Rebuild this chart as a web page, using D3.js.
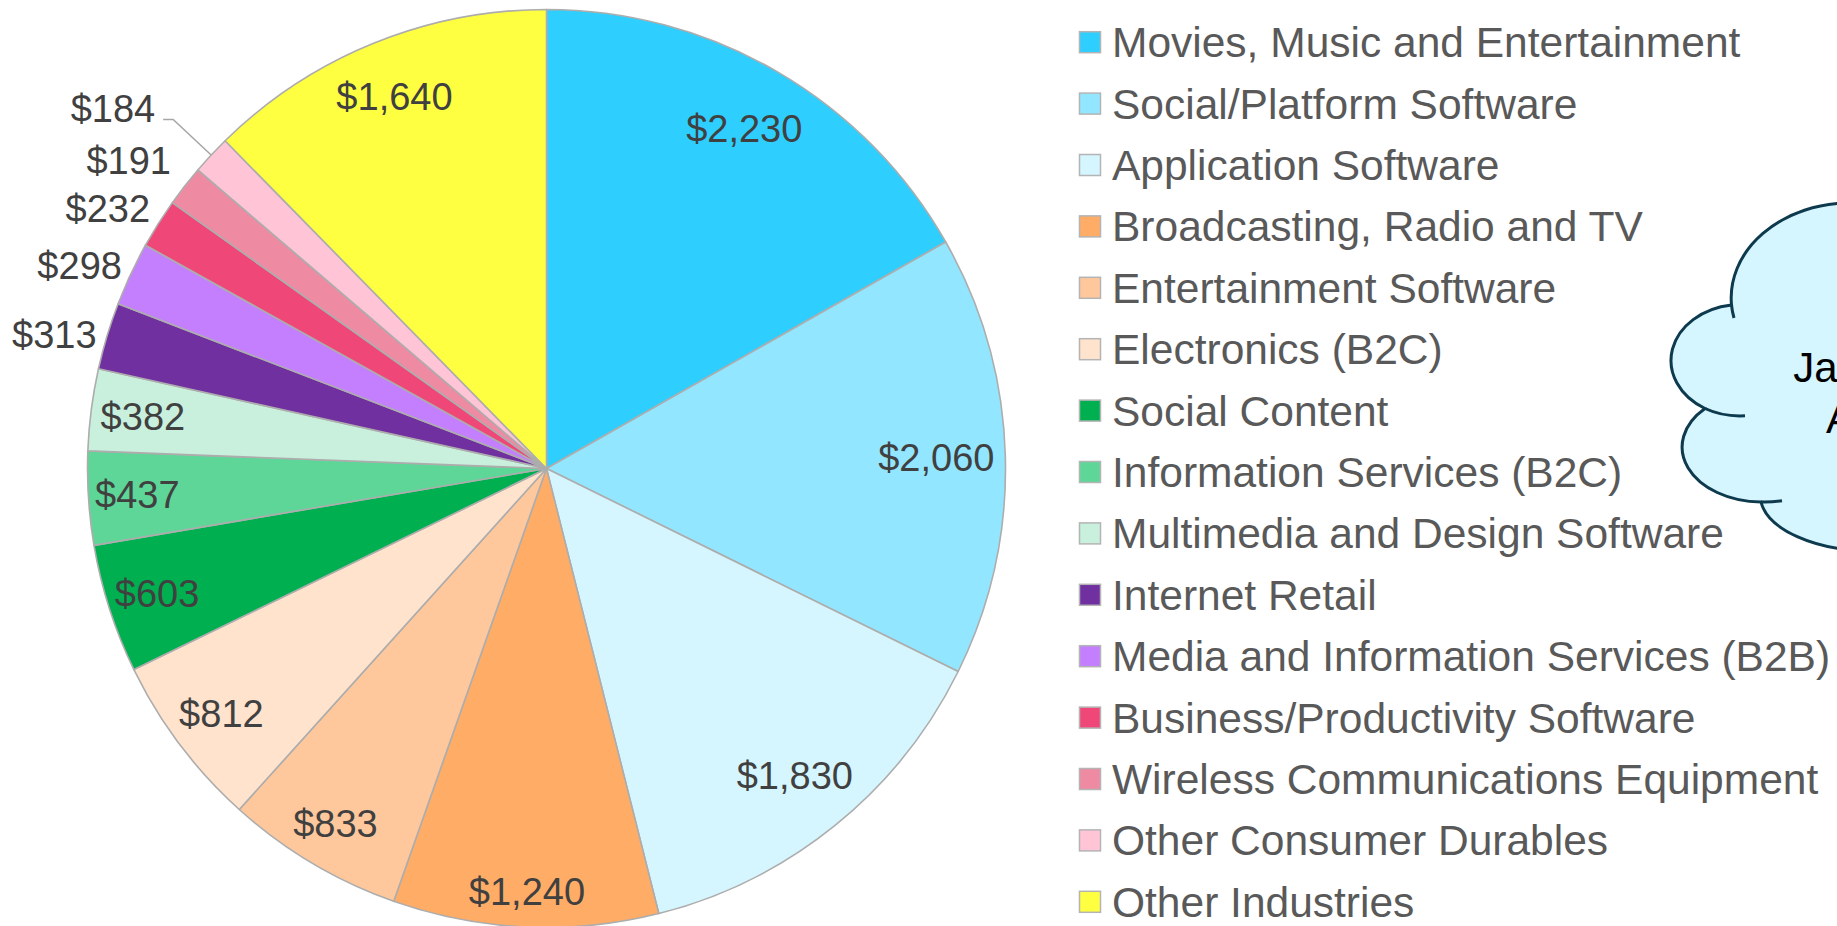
<!DOCTYPE html>
<html>
<head>
<meta charset="utf-8">
<script src="https://cdn.jsdelivr.net/npm/d3@7"></script>
<style>
  html, body { margin: 0; padding: 0; background: #ffffff; overflow: hidden; }
  svg { display: block; }
  text { font-family: "Liberation Sans", Arial, sans-serif; }
</style>
</head>
<body>
<svg id="chart" width="1837" height="926"></svg>
<script>
// ---- data ----
const categories = [
  "Movies, Music and Entertainment",
  "Social/Platform Software",
  "Application Software",
  "Broadcasting, Radio and TV",
  "Entertainment Software",
  "Electronics (B2C)",
  "Social Content",
  "Information Services (B2C)",
  "Multimedia and Design Software",
  "Internet Retail",
  "Media and Information Services (B2B)",
  "Business/Productivity Software",
  "Wireless Communications Equipment",
  "Other Consumer Durables",
  "Other Industries"
];
const values = [2230, 2060, 1830, 1240, 833, 812, 603, 437, 382, 313, 298, 232, 191, 184, 1640];
const cloudLines = ["January", "April"];

// ---- styles / layout ----
const palette = ["#2ECEFF", "#93E6FF", "#D5F5FF", "#FFAD66", "#FFC89C", "#FFE3CD",
                 "#00AF50", "#5DD698", "#C9F0DD", "#7030A0", "#C47FFF", "#EE4778",
                 "#EE8AA2", "#FFC5D6", "#FFFF41"];
const labelRadius = [393, 390, 395, 424, 413, 407, 409, 410, 407, 510, 509, 510, 519, 511, 402];
const outsideShiftDeg = -1.6;
const leaderIndex = 13;

const svg = d3.select("#chart");
const cx = 546.5, cy = 468.5, R = 459;

const pie = d3.pie().sort(null).value(d => d);
const arcs = pie(values);
const arc = d3.arc().innerRadius(0).outerRadius(R);

const g = svg.append("g").attr("transform", `translate(${cx},${cy})`);
g.selectAll("path.slice")
  .data(arcs)
  .enter().append("path")
  .attr("class", "slice")
  .attr("d", arc)
  .attr("fill", (d, i) => palette[i])
  .attr("stroke", "#ADADAD")
  .attr("stroke-width", 1.6)
  .attr("stroke-linejoin", "round");

const polar = (a, r) => [r * Math.sin(a), -r * Math.cos(a)];
const fmt = d3.format("$,");

arcs.forEach((d, i) => {
  const mid = (d.startAngle + d.endAngle) / 2;
  if (i === leaderIndex) {
    const p0 = polar(mid, R);
    const p1 = polar(mid, labelRadius[i]);
    const p2 = [p1[0] - 10, p1[1]];
    g.append("path")
      .attr("d", d3.line()([p0, p1, p2]))
      .attr("fill", "none")
      .attr("stroke", "#A6A6A6")
      .attr("stroke-width", 1.5);
    g.append("text")
      .attr("x", p2[0] - 8)
      .attr("y", p2[1] - 11)
      .attr("dy", "0.35em")
      .attr("text-anchor", "end")
      .attr("font-size", 38)
      .attr("fill", "#404040")
      .text(fmt(values[i]));
  } else {
    const outside = labelRadius[i] > R;
    const a = mid + (outside ? outsideShiftDeg * Math.PI / 180 : 0);
    const p = polar(a, labelRadius[i]);
    g.append("text")
      .attr("x", p[0])
      .attr("y", p[1])
      .attr("dy", "0.35em")
      .attr("text-anchor", "middle")
      .attr("font-size", 38)
      .attr("fill", "#404040")
      .text(fmt(values[i]));
  }
});

// ---- legend ----
const legend = svg.append("g");
const rowY = i => 42.2 + i * 61.4;
categories.forEach((c, i) => {
  legend.append("rect")
    .attr("x", 1079.5).attr("y", rowY(i) - 10.5)
    .attr("width", 21).attr("height", 21)
    .attr("fill", palette[i])
    .attr("stroke", "#B4B4B4").attr("stroke-width", 1.5);
  legend.append("text")
    .attr("x", 1112).attr("y", rowY(i) + 15)
    .attr("font-size", 42.5)
    .attr("fill", "#595959")
    .text(c);
});

// ---- cloud callout ----
const cloud = svg.append("g");
cloud.append("path")
  .attr("d", "M 1850 203 A 119 95 0 0 0 1731.5 305 A 70 56 0 0 0 1705 408.5 A 80 55 0 0 0 1761 502 A 112 56 0 0 0 1870 551 L 1950 551 L 1950 203 Z")
  .attr("fill", "#D5F5FF")
  .attr("stroke", "#0E3A4E")
  .attr("stroke-width", 3);
const tails = [
  "M 1731.5 305 A 119 95 0 0 0 1734 318",
  "M 1705 408.5 A 70 56 0 0 0 1745 415.8",
  "M 1761 502 A 80 55 0 0 0 1782 500.7"
];
tails.forEach(t => cloud.append("path").attr("d", t)
  .attr("fill", "none").attr("stroke", "#0E3A4E").attr("stroke-width", 3));
cloudLines.forEach((t, i) => {
  cloud.append("text")
    .attr("x", 1868).attr("y", 382 + i * 51)
    .attr("text-anchor", "middle")
    .attr("font-size", 42)
    .attr("fill", "#000000")
    .text(t);
});
</script>
</body>
</html>
